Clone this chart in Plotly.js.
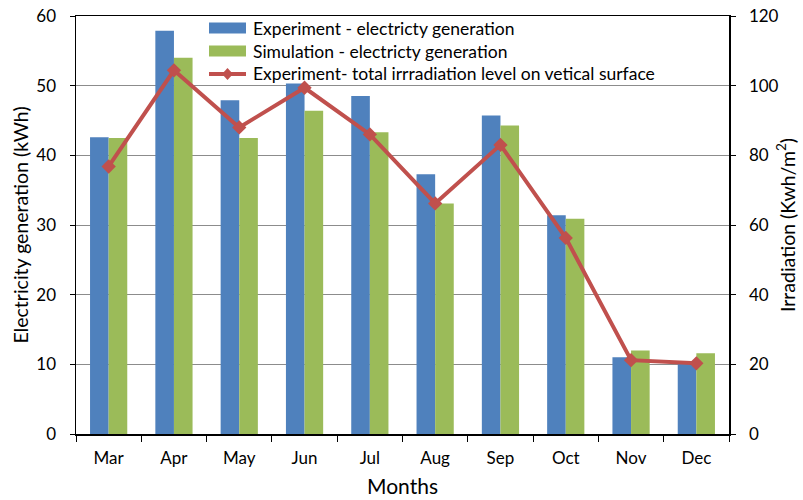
<!DOCTYPE html>
<html>
<head>
<meta charset="utf-8">
<script src="https://cdn.plot.ly/plotly-3.0.1.min.js"></script>
<style>html,body{margin:0;padding:0;background:#fff;}#chart{width:803px;height:500px;}</style>
</head>
<body>
<div id="chart"></div>
<script>
var months = ["Mar","Apr","May","Jun","Jul","Aug","Sep","Oct","Nov","Dec"];
var experimentGen = [42.6, 57.9, 47.9, 50.3, 48.5, 37.3, 45.7, 31.4, 11.0, 10.1];
var simulationGen = [42.5, 54.0, 42.5, 46.4, 43.3, 33.1, 44.3, 30.9, 12.0, 11.6];
var irradiation = [76.8, 104.4, 88.0, 99.4, 86.0, 66.2, 83.0, 56.3, 21.2, 20.3];
var leftTicks = [0, 10, 20, 30, 40, 50, 60];
var rightTicks = [0, 20, 40, 60, 80, 100, 120];
var seriesNames = ["Experiment - electricty generation",
                   "Simulation - electricty generation",
                   "Experiment- total irrradiation level on vetical surface"];

var FONT = "Lato, 'Open Sans', sans-serif";
var BLUE = "#4F81BD", GREEN = "#9BBB59", RED = "#C0504D";

// plot area in pixels
var L = 76, R = 729, T = 16, B = 434;
function px(x) { return (x - L) / (R - L); }
function py(y) { return (B - y) / (B - T); }

var traces = [
  {type: "bar", name: seriesNames[0], x: months, y: experimentGen,
   marker: {color: BLUE, line: {width: 0}}},
  {type: "bar", name: seriesNames[1], x: months, y: simulationGen,
   marker: {color: GREEN, line: {width: 0}}},
  {type: "scatter", mode: "lines+markers", name: seriesNames[2],
   x: months, y: irradiation, yaxis: "y2",
   line: {color: RED, width: 4}, marker: {symbol: "diamond", size: 11, color: RED}}
];

// custom legend (wide bar swatches like the original)
var rowY = [28, 51, 74];
var shapes = [
  {type: "rect", xref: "paper", yref: "paper", x0: px(209), x1: px(246), y0: py(rowY[0] + 5.5), y1: py(rowY[0] - 5.5),
   fillcolor: BLUE, line: {width: 0}},
  {type: "rect", xref: "paper", yref: "paper", x0: px(209), x1: px(246), y0: py(rowY[1] + 5.5), y1: py(rowY[1] - 5.5),
   fillcolor: GREEN, line: {width: 0}},
  {type: "line", xref: "paper", yref: "paper", x0: px(209), x1: px(246), y0: py(rowY[2]), y1: py(rowY[2]),
   line: {color: RED, width: 4}},
  {type: "path", xref: "paper", yref: "paper",
   path: "M " + px(227.5) + " " + py(rowY[2] - 6) + " L " + px(233) + " " + py(rowY[2]) +
         " L " + px(227.5) + " " + py(rowY[2] + 6) + " L " + px(222) + " " + py(rowY[2]) + " Z",
   fillcolor: RED, line: {width: 0}}
];
var annotations = seriesNames.map(function (n, i) {
  return {text: n, xref: "paper", yref: "paper", x: px(251), y: py(rowY[i]), xanchor: "left", yanchor: "middle",
          showarrow: false, font: {family: FONT, size: 17.5, color: "#000"}};
});

var layout = {
  width: 803, height: 500,
  margin: {l: L, r: 803 - R, t: T, b: 500 - B},
  paper_bgcolor: "#fff", plot_bgcolor: "#fff",
  font: {family: FONT, size: 17, color: "#000"},
  barmode: "group", bargap: 0.43, bargroupgap: 0,
  showlegend: false,
  shapes: shapes,
  annotations: annotations,
  xaxis: {type: "category", range: [-0.5, 9.5], automargin: false, showline: true, linecolor: "#000", linewidth: 1.5, mirror: true,
          ticks: "outside", tickson: "boundaries", ticklen: 6, tickcolor: "#000", ticklabelstandoff: 8,
          tickfont: {family: FONT, size: 17}, showgrid: false,
          title: {text: "Months", font: {family: FONT, size: 21}, standoff: 12}},
  yaxis: {range: [0, 60], automargin: false, tickvals: leftTicks, ticktext: leftTicks.map(String),
          showline: true, linecolor: "#000", linewidth: 1.5, ticks: "outside", ticklen: 5, tickcolor: "#000",
          ticklabelstandoff: 10,
          showgrid: true, gridcolor: "#8c8c8c", gridwidth: 1, zeroline: false,
          tickfont: {family: FONT, size: 17},
          title: {text: "Electricity generation (kWh)", font: {family: FONT, size: 19.5}, standoff: 2}},
  yaxis2: {range: [0, 120], automargin: false, tickvals: rightTicks, ticktext: rightTicks.map(String),
           overlaying: "y", side: "right", showline: true, linecolor: "#000", linewidth: 1.5,
           ticks: "outside", ticklen: 5, tickcolor: "#000", ticklabelstandoff: 10, showgrid: false, zeroline: false,
           tickfont: {family: FONT, size: 17},
           title: {text: "Irradiation (Kwh/m<sup>2</sup>)", font: {family: FONT, size: 19.5}, standoff: 3}}
};

Plotly.newPlot("chart", traces, layout, {displayModeBar: false, staticPlot: true});
</script>
</body>
</html>
